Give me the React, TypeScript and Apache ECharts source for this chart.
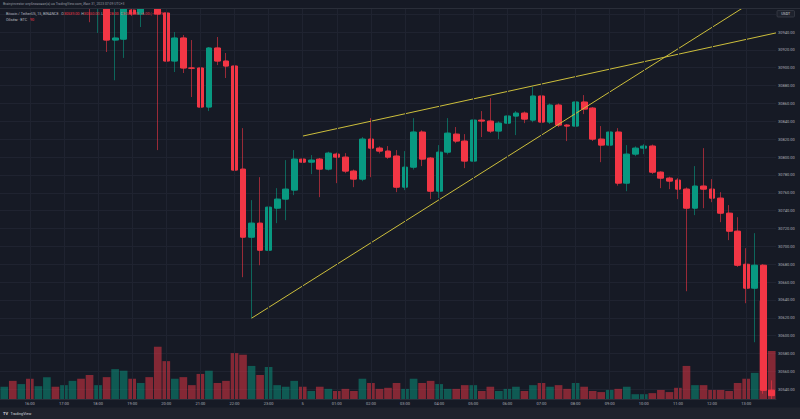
import React, { useEffect, useRef } from "react";
import * as echarts from "echarts";

// 15-minute bars, 15:15 -> 13:45 next day
const times: string[] = [
  "15:15","15:30","15:45","16:00","16:15","16:30","16:45","17:00","17:15","17:30","17:45","18:00","18:15","18:30","18:45","19:00",
  "19:15","19:30","19:45","20:00","20:15","20:30","20:45","21:00","21:15","21:30","21:45","22:00","22:15","22:30","22:45","23:00",
  "23:15","23:30","23:45","00:00","00:15","00:30","00:45","01:00","01:15","01:30","01:45","02:00","02:15","02:30","02:45","03:00",
  "03:15","03:30","03:45","04:00","04:15","04:30","04:45","05:00","05:15","05:30","05:45","06:00","06:15","06:30","06:45","07:00",
  "07:15","07:30","07:45","08:00","08:15","08:30","08:45","09:00","09:15","09:30","09:45","10:00","10:15","10:30","10:45","11:00",
  "11:15","11:30","11:45","12:00","12:15","12:30","12:45","13:00","13:15","13:30","13:45",
];

const opens: number[] = [
  30990,31000,30992,31002,30990,30998,31006,30995,31003,31010,
  30990,30975,30988,30931,30932,30964.6,30960,30985,30972,30961.3,
  30907.5,30933.3,30899.7,30899.7,30856.0,30922.1,30907.5,30901.9,30786.5,30710.3,
  30726.0,30695.7,30742.8,30752.9,30763.0,30797.7,30794.3,30797.7,30786.5,30803.3,
  30799.9,30784.3,30775.3,30820.1,30810.0,30806.7,30801.1,30766.3,30788.7,30828.0,
  30798.8,30761.8,30805.5,30825.7,30817.9,30795.5,30841.4,30840.3,30829.1,30838.0,
  30845.9,30849.2,30841.4,30868.3,30839.2,30858.2,30835.8,30834.7,30861.6,30854.8,
  30820.1,30813.4,30828.0,30770.8,30803.3,30810.0,30812.3,30783.1,30776.4,30774.2,
  30764.1,30742.8,30767.5,30764.1,30754.0,30737.2,30717.0,30680.0,30653.2,30678.9,
  30539.0,
];
const closes: number[] = [
  31000,30992,31002,30990,30998,31006,30995,31003,31010,30990,
  30975,30988,30931,30933.3,30968,30960.2,30967,30972,30960.2,30907.5,
  30933.3,30899.7,30899.5,30856.0,30922.1,30907.5,30901.9,30785.4,30710.3,30726.0,
  30695.7,30743.9,30752.9,30764.1,30797.7,30794.3,30796.6,30786.5,30804.4,30799.9,
  30784.3,30775.3,30820.1,30810.0,30806.7,30799.9,30766.3,30788.7,30828.0,30797.7,
  30761.8,30805.5,30826.8,30817.9,30795.5,30841.4,30840.3,30829.1,30838.0,30845.9,
  30849.2,30842.5,30868.3,30839.2,30858.2,30835.8,30834.7,30861.6,30853.7,30820.1,
  30813.4,30828.0,30770.8,30803.3,30810.0,30812.3,30783.1,30776.4,30773.1,30764.1,
  30742.8,30767.5,30764.1,30754.0,30737.2,30717.0,30678.9,30653.2,30678.9,30538.9,
  30532.9,
];
const lows: number[] = [
  30985,30988,30989,30985,30986,30994,30990,30991,31000,30985,
  30951,30939,30917.6,30886,30911,30958,30945.6,30968,30807.8,30905,
  30895.2,30894.1,30867.2,30849.2,30851.5,30903.0,30888.5,30718.2,30665.5,30619.6,
  30678.9,30667.7,30726.0,30729.4,30757.4,30777.5,30780.9,30755.1,30785,30770.8,
  30782,30766.3,30773,30777.5,30804,30798,30760.7,30763.0,30786,30789.9,
  30752.9,30754.0,30803,30815.6,30787.6,30793,30822.4,30827,30820.1,30836,
  30824.6,30838.0,30839,30822.4,30837,30833.6,30817.9,30830.2,30848.1,30818,
  30794.3,30794.3,30768,30761.8,30801,30803.3,30781,30765.2,30764.1,30752.9,
  30649.8,30735.0,30742.8,30749.5,30727.1,30707.0,30677,30636.4,30592.7,30535,
  30528,
];
const highs: number[] = [
  31005,31004,31008,31006,31003,31010,31009,31007,31014,31012,
  30994,30992,30992,30970,30972,30968,30970,30990,30975,30963,
  30940,30936.6,30931,30901,30923.2,30934.4,30916.5,30913.1,30832.4,30751.8,
  30777.5,30745,30765.2,30796.6,30807.8,30823.5,30802.2,30799,30806,30805,
  30804.4,30786,30822.4,30843.6,30812,30812.3,30807.8,30806.7,30843.6,30830,
  30800,30813.4,30843.6,30833.6,30825.7,30843,30851.5,30866.1,30840,30859.3,
  30851.5,30851,30878.4,30870,30860,30860,30837,30863,30869.4,30856,
  30834.7,30830,30832.4,30813.4,30812,30814.5,30814,30784,30778,30776.4,
  30766,30789.9,30810.0,30775.3,30760.7,30746.2,30732.7,30698.0,30714.8,30680,
  30550,
];
const volumes: number[] = [
  23,34,28,38,24,41,23,26,34,38,
  45,26,41,56,53,38,30,41,98,71,
  38,41,26,47,53,30,34,86,83,62,
  45,60,26,23,34,23,15,23,19,15,
  19,15,38,30,19,21,30,19,38,30,
  34,28,19,19,26,26,15,23,15,19,
  23,15,26,30,23,26,19,30,23,15,
  13,17,19,23,9,9,11,17,13,21,
  62,26,26,17,17,15,30,38,49,184,
  90,
];

// trend lines: [bar index, price]
const wedgeUpper: number[][] = [[35, 30823.5], [90.5, 30939]];
const wedgeLower: number[][] = [[29, 30619.6], [90.5, 30990.5]];

const priceTicks = { min: 30540, max: 30966.89, step: 20, lastLabel: 30940 };
const dayLabel = "5";

const BG = "#161a25";
const UP = "#089981";
const DOWN = "#f23645";
const GRID = "#1f2330";
const TXT = "#a9acb5";
const FONT = "Roboto, 'Noto Sans', sans-serif";

export default function App() {
  const ref = useRef<HTMLDivElement>(null);
  useEffect(() => {
    document.body.style.margin = "0";
    const chart = echarts.init(ref.current!, null, { renderer: "svg" });
    const ohlc = times.map((_, i) => [opens[i], closes[i], lows[i], highs[i]]);
    const bodies = times.map((_, i) => [
      opens[i], closes[i], Math.min(opens[i], closes[i]), Math.max(opens[i], closes[i]),
    ]);
    const isHour = (i: number) => times[i] && times[i].endsWith(":00");
    const vol = volumes.map((v, i) => ({
      value: v,
      itemStyle: {
        color: closes[i] >= opens[i] ? "rgba(8,153,129,0.5)" : "rgba(242,54,69,0.5)",
      },
    }));

    const option: any = {
      animation: false,
      backgroundColor: BG,
      grid: [
        { left: 0, top: 8, width: 776, height: 381.3 },
        { left: 0, top: 8, width: 776, height: 391 },
      ],
      xAxis: [
        {
          type: "category", gridIndex: 0, data: times, boundaryGap: true,
          axisLine: { show: false }, axisTick: { show: false }, axisLabel: { show: false },
          splitLine: { show: false },
        },
        {
          type: "category", gridIndex: 1, data: times, boundaryGap: true, z: 50,
          axisLine: { show: true, lineStyle: { color: "#2a2e39" } },
          axisTick: { show: false },
          axisLabel: {
            interval: (i: number) => isHour(i),
            formatter: (v: string) => (v === "00:00" ? dayLabel : v),
            color: TXT, fontSize: 4, margin: 2.5, fontFamily: FONT,
          },
          splitLine: {
            show: true, interval: (i: number) => isHour(i), alignWithLabel: true,
            lineStyle: { color: GRID, width: 1 },
          },
        },
        { type: "value", gridIndex: 0, min: -0.5, max: 90.5, show: false },
      ],
      yAxis: [
        {
          type: "value", gridIndex: 0, position: "right",
          min: priceTicks.min, max: priceTicks.max, interval: priceTicks.step,
          axisLine: { show: false }, axisTick: { show: false },
          axisLabel: {
            color: TXT, fontSize: 4, margin: 2, fontFamily: FONT,
            formatter: (v: number) => {
              const k = (v - priceTicks.min) / priceTicks.step;
              if (v > priceTicks.lastLabel + 0.01 || Math.abs(k - Math.round(k)) > 1e-6) return "";
              return v.toFixed(2);
            },
          },
          splitLine: { show: true, lineStyle: { color: GRID, width: 1 } },
        },
        { type: "value", gridIndex: 1, min: 0, max: 733, show: false, splitLine: { show: false } },
      ],
      series: [
        {
          type: "bar", xAxisIndex: 1, yAxisIndex: 1, data: vol,
          barCategoryGap: "10%", z: 1,
        },
        {
          type: "candlestick", xAxisIndex: 0, yAxisIndex: 0, data: ohlc, clip: false,
          barWidth: "45%", z: 2,
          itemStyle: {
            color: "transparent", color0: "transparent",
            borderColor: "rgba(8,153,129,0.6)", borderColor0: "rgba(242,54,69,0.6)",
            borderWidth: 1,
          },
        },
        {
          type: "candlestick", xAxisIndex: 0, yAxisIndex: 0, data: bodies, clip: false,
          barWidth: "74%", z: 3,
          itemStyle: {
            color: UP, color0: DOWN, borderColor: UP, borderColor0: DOWN, borderWidth: 1,
          },
        },
        {
          type: "line", xAxisIndex: 2, yAxisIndex: 0, data: wedgeUpper, symbol: "none",
          lineStyle: { color: "#cdbf3c", width: 1 }, z: 4, silent: true,
        },
        {
          type: "line", xAxisIndex: 2, yAxisIndex: 0, data: wedgeLower, symbol: "none",
          lineStyle: { color: "#cdbf3c", width: 1 }, z: 4, silent: true,
        },
      ],
      graphic: [
        { type: "rect", shape: { x: 0, y: 0, width: 800, height: 8 }, style: { fill: BG }, z: 100 },
        { type: "line", shape: { x1: 0, y1: 8.5, x2: 800, y2: 8.5 }, style: { stroke: "#2a2e39", lineWidth: 1 }, z: 101 },
        {
          type: "text", x: 3, y: 4, z: 102,
          style: {
            text: "Brainyinvestor опубликовал(а) на TradingView.com, Июл 31, 2023 07:09 UTC+3",
            fill: "#9598a1", fontSize: 3.4, fontFamily: FONT, verticalAlign: "middle",
          },
        },
        {
          type: "text", x: 6, y: 13.5, z: 102,
          style: {
            text: "{g|Bitcoin / TetherUS, 15, BINANCE   O}{r|30539.00}{g|  H}{r|30550.00}{g|  L}{r|30528.00}{g|  C}{r|30533.00}{r|  −6.00 (−0.02%)}",
            fontSize: 3.7, fontFamily: FONT, verticalAlign: "middle",
            rich: {
              g: { fill: "#b2b5be", fontSize: 3.7, fontFamily: FONT },
              r: { fill: DOWN, fontSize: 3.7, fontFamily: FONT },
            },
          },
        },
        {
          type: "text", x: 6, y: 19.5, z: 102,
          style: {
            text: "{g|Объём · BTC   }{r|90}",
            fontSize: 3.7, fontFamily: FONT, verticalAlign: "middle",
            rich: {
              g: { fill: "#b2b5be", fontSize: 3.7, fontFamily: FONT },
              r: { fill: DOWN, fontSize: 3.7, fontFamily: FONT },
            },
          },
        },
        {
          type: "rect", shape: { x: 777, y: 10.5, width: 17.5, height: 6.5, r: 1 },
          style: { fill: "#1e222d", stroke: "#434651", lineWidth: 0.6 }, z: 102,
        },
        {
          type: "text", x: 785.7, y: 13.9, z: 103,
          style: {
            text: "USDT", fill: "#d1d4dc", fontSize: 3.6, fontFamily: FONT,
            align: "center", verticalAlign: "middle",
          },
        },
        { type: "rect", shape: { x: 0, y: 407.5, width: 800, height: 12 }, style: { fill: "#1f222c" }, z: 100 },
        {
          type: "text", x: 3, y: 413.5, z: 102,
          style: { text: "TV", fill: "#d1d4dc", fontSize: 4, fontWeight: "bold", fontFamily: FONT, verticalAlign: "middle" },
        },
        {
          type: "text", x: 10.5, y: 413.5, z: 102,
          style: { text: "TradingView", fill: "#d1d4dc", fontSize: 3.8, fontFamily: FONT, verticalAlign: "middle" },
        },
      ],
    };
    chart.setOption(option);
    return () => chart.dispose();
  }, []);
  return <div ref={ref} style={{ position: "fixed", left: 0, top: 0, width: 800, height: 419 }} />;
}
